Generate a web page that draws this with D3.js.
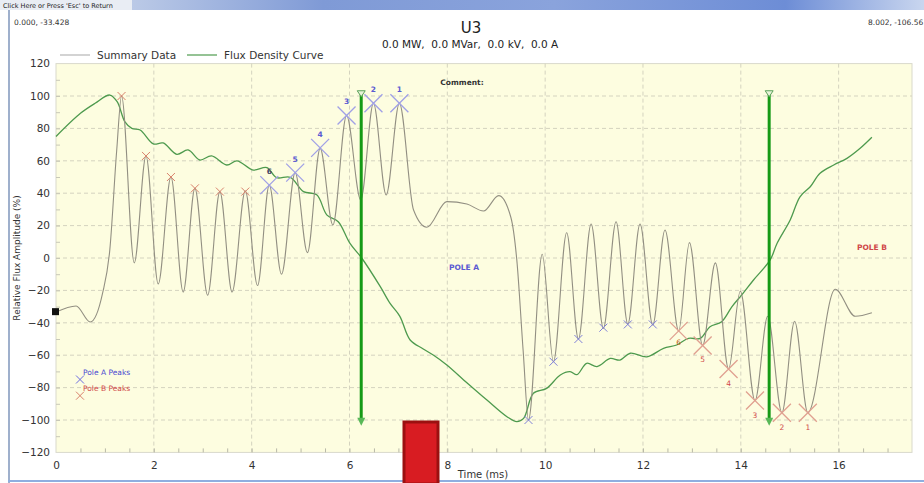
<!DOCTYPE html>
<html><head><meta charset="utf-8">
<script src="https://cdn.jsdelivr.net/npm/d3@7"></script>
<style>body{margin:0;background:#fff;overflow:hidden}svg{display:block;font-family:"DejaVu Sans",Verdana,sans-serif}text{white-space:pre}</style>
</head><body>
<svg id="c" width="924" height="483"></svg>
<script>
// ---- data ----
const sumT = [0,0.41,0.7,0.95,1.1,1.24,1.34,1.6,1.84,2.09,2.35,2.6,2.84,3.1,3.35,3.6,3.87,4.12,4.36,4.61,4.89,5.14,5.4,5.66,5.94,6.23,6.49,6.75,7.02,7.31,7.58,7.99,8.4,8.74,9.05,9.3,9.42,9.55,9.66,9.94,10.17,10.44,10.68,10.94,11.19,11.45,11.69,11.94,12.2,12.45,12.73,12.95,13.22,13.48,13.75,13.99,14.29,14.55,14.84,15.1,15.37,15.93,16.34,16.68];
const sumV = [-33.4,-29.6,-39.5,-22,5,66,100,-3,63,-16,50,-21,43,-23,41,-21,41.5,-17,45,-10,52.7,3.3,67.7,20.4,88,35.8,95.5,38.9,95.5,29.6,19,34.8,33.3,29,38.5,25,-1,-57,-100,2.3,-64,15.6,-50,21,-43.4,22.4,-40.7,21,-41.4,17.3,-45,9.5,-54,-3,-68.5,-20.5,-88,-36,-95.5,-39,-95.5,-19.3,-36,-33.8];
const fluxT = [0,0.5,0.8,1.1,1.25,1.41,1.55,1.72,1.99,2.19,2.47,2.7,2.94,3.18,3.49,3.7,4.03,4.31,4.51,4.79,5.06,5.33,5.54,5.77,6.01,6.25,6.63,6.83,7.03,7.24,7.5,7.72,7.99,8.4,8.81,9.22,9.42,9.56,9.76,10.03,10.31,10.51,10.65,10.85,11.06,11.33,11.53,11.74,12.08,12.42,12.69,12.93,13.17,13.37,13.61,13.82,14.02,14.26,14.6,14.74,15.01,15.21,15.42,15.62,15.9,16.17,16.44,16.68];
const fluxV = [75,89.3,95.5,100.6,96.5,84,80,79,70.4,71,64,66.7,60.5,63,57.4,60,54.3,55.8,49.6,49.8,41,39,26.5,22.4,9,0,-17.7,-28,-36,-50.6,-56,-60,-66,-77,-87.7,-98,-101,-99,-83.5,-80.5,-72.2,-70.2,-72,-65,-67,-62,-63,-58.8,-61,-55.8,-53.7,-49.6,-49.6,-42.4,-39.3,-30,-22.8,-13.6,-1.2,9,23.5,37.8,44,52.3,57.4,61.5,67.7,74.5];
const poleBSmallT = [1.34,1.84,2.35,2.84,3.35,3.87];
const poleBSmallV = [100,63,50,43,41,41];
const poleANumT = [7.02,6.49,5.94,5.4,4.89,4.36];
const poleANumV = [95.5,95.5,88,68,52.7,45];
const poleASmallT = [9.66,10.17,10.68,11.19,11.69,12.2];
const poleASmallV = [-100,-64,-50,-43,-41,-41];
const poleBNumT = [15.37,14.84,14.29,13.75,13.22,12.73];
const poleBNumV = [-95.5,-95.5,-88,-68.5,-54,-45];
const peakLabels = ["1","2","3","4","5","6"];
const cursorT = [6.24, 14.58];
const cursorTop = 102, cursorBottom = -103;
const xTicks = [0,2,4,6,8,10,12,14,16];
const yTicks = [-120,-100,-80,-60,-40,-20,0,20,40,60,80,100,120];
const startPoint = [0,-33.428];

// ---- layout ----
const svg = d3.select("#c");
const L = 56, R = 912, T = 63.6, B = 452.4;
const x = d3.scaleLinear().domain([0,17.5]).range([L,R]);
const y = d3.scaleLinear().domain([-120,120]).range([B,T]);

// window chrome
const defs = svg.append("defs");
const g1 = defs.append("linearGradient").attr("id","tb");
g1.append("stop").attr("offset","0").attr("stop-color","#dfe6f2");
g1.append("stop").attr("offset","0.15").attr("stop-color","#b9c8e6");
g1.append("stop").attr("offset","0.35").attr("stop-color","#7f9ad6");
g1.append("stop").attr("offset","0.6").attr("stop-color","#8aa3dc");
g1.append("stop").attr("offset","0.85").attr("stop-color","#6d8dd6");
g1.append("stop").attr("offset","1").attr("stop-color","#c9d6ef");
svg.append("rect").attr("x",0).attr("y",0).attr("width",924).attr("height",10).attr("fill","url(#tb)");
svg.append("rect").attr("x",0).attr("y",0).attr("width",132).attr("height",10).attr("fill","#e9edf4");
svg.append("text").attr("x",3).attr("y",8).attr("font-size",6.5).attr("fill","#222").text("Click Here or Press 'Esc' to Return");
svg.append("rect").attr("x",8).attr("y",10).attr("width",2).attr("height",473).attr("fill","#9fb0cc");
svg.append("rect").attr("x",8).attr("y",480).attr("width",916).attr("height",2).attr("fill","#8eaee0");

svg.append("text").attr("x",14).attr("y",25).attr("font-size",7.5).attr("fill","#333").text("0.000, -33.428");
svg.append("text").attr("x",868).attr("y",25).attr("font-size",7.5).attr("fill","#333").text("8.002, -106.56");
svg.append("text").attr("x",471).attr("y",33).attr("text-anchor","middle").attr("font-size",15).attr("fill","#222").text("U3");
svg.append("text").attr("x",470).attr("y",48).attr("text-anchor","middle").attr("font-size",10.5).attr("fill","#222").text("0.0 MW,  0.0 MVar,  0.0 kV,  0.0 A");

// legend
svg.append("line").attr("x1",60).attr("x2",90).attr("y1",55).attr("y2",55).attr("stroke","#b5b5b5").attr("stroke-width",1.2);
svg.append("text").attr("x",97).attr("y",59).attr("font-size",10.5).attr("fill","#333").text("Summary Data");
svg.append("line").attr("x1",187).attr("x2",217).attr("y1",55).attr("y2",55).attr("stroke","#4e9a4e").attr("stroke-width",1.2);
svg.append("text").attr("x",224).attr("y",59).attr("font-size",10.5).attr("fill","#333").text("Flux Density Curve");

// plot background
svg.append("rect").attr("x",L).attr("y",T).attr("width",R-L).attr("height",B-T).attr("fill","#fdfde0").attr("stroke","#d9d9cc");

// grid
const grid = svg.append("g").attr("stroke","#d4d3bf").attr("stroke-dasharray","4,3").attr("stroke-width",1);
xTicks.filter(d=>d>0).forEach(d=>grid.append("line").attr("x1",x(d)).attr("x2",x(d)).attr("y1",T).attr("y2",B));
yTicks.filter(d=>d>-120&&d<120).forEach(d=>grid.append("line").attr("x1",L).attr("x2",R).attr("y1",y(d)).attr("y2",y(d)));

// axes
const xAx = svg.append("g").attr("transform",`translate(0,${B})`)
  .call(d3.axisBottom(x).tickValues(xTicks).tickSize(0).tickPadding(9).tickFormat(d3.format("d")));
xAx.select(".domain").remove();
xAx.selectAll("text").attr("font-size",10.5).attr("fill","#333").attr("font-family","DejaVu Sans, Verdana, sans-serif");
const xMinor = svg.append("g").attr("transform",`translate(0,${B})`)
  .call(d3.axisTop(x).tickValues(d3.range(0.5,17.5,0.5)).tickSize(4).tickFormat(""));
xMinor.select(".domain").remove();
xMinor.selectAll("line").attr("stroke","#b8b8a8");
const yAx = svg.append("g").attr("transform",`translate(${L},0)`)
  .call(d3.axisLeft(y).tickValues(yTicks).tickSize(0).tickPadding(6));
yAx.select(".domain").remove();
yAx.selectAll("text").attr("font-size",10.5).attr("fill","#333").attr("font-family","DejaVu Sans, Verdana, sans-serif");
const yMinor = svg.append("g").attr("transform",`translate(${L},0)`)
  .call(d3.axisRight(y).tickValues(d3.range(-110,120,10)).tickSize(4).tickFormat(""));
yMinor.select(".domain").remove();
yMinor.selectAll("line").attr("stroke","#c8c8b8");

svg.append("text").attr("x",483).attr("y",478).attr("text-anchor","middle").attr("font-size",10).attr("fill","#333").text("Time (ms)");
svg.append("text").attr("transform",`translate(20,${(T+B)/2}) rotate(-90)`).attr("text-anchor","middle").attr("font-size",9).attr("fill","#333").text("Relative Flux Amplitude (%)");

// annotation text
svg.append("text").attr("x",462).attr("y",85).attr("text-anchor","middle").attr("font-size",7.5).attr("font-weight","bold").attr("fill","#333").text("Comment:");
svg.append("text").attr("x",464).attr("y",270).attr("text-anchor","middle").attr("font-size",7.5).attr("font-weight","bold").attr("fill","#5a5ad2").text("POLE A");
svg.append("text").attr("x",872).attr("y",250).attr("text-anchor","middle").attr("font-size",7.5).attr("font-weight","bold").attr("fill","#d04848").text("POLE B");

// lines
const sumData = sumT.map((t,i)=>[t,sumV[i]]);
const fluxData = fluxT.map((t,i)=>[t,fluxV[i]]);
svg.append("path").datum(fluxData).attr("fill","none").attr("stroke","#4e9a4e").attr("stroke-width",1.3)
  .attr("d",d3.line().x(d=>x(d[0])).y(d=>y(d[1])).curve(d3.curveCatmullRom.alpha(0.5)));
svg.append("path").datum(sumData).attr("fill","none").attr("stroke","#928f82").attr("stroke-width",1.1)
  .attr("d",d3.line().x(d=>x(d[0])).y(d=>y(d[1])).curve(d3.curveMonotoneX));

// markers
function cross(g, cx, cy, r, color, w){
  g.append("path").attr("d",`M${cx-r},${cy-r}L${cx+r},${cy+r}M${cx-r},${cy+r}L${cx+r},${cy-r}`)
   .attr("stroke",color).attr("stroke-width",w).attr("fill","none");
}
const mk = svg.append("g");
poleBSmallT.forEach((t,i)=>cross(mk,x(t),y(poleBSmallV[i]),4,"#d9826c",1));
poleASmallT.forEach((t,i)=>cross(mk,x(t),y(poleASmallV[i]),4,"#8080d8",1));
poleANumT.forEach((t,i)=>{
  cross(mk,x(t),y(poleANumV[i]),9,"#a0a0e6",1.3);
  mk.append("text").attr("x",x(t)).attr("y",y(poleANumV[i])-11).attr("text-anchor","middle")
    .attr("font-size",7.5).attr("font-weight","bold").attr("fill",i===5?"#444466":"#5a5ad2").text(peakLabels[i]);
});
poleBNumT.forEach((t,i)=>{
  cross(mk,x(t),y(poleBNumV[i]),9,"#e0a090",1.3);
  mk.append("text").attr("x",x(t)).attr("y",y(poleBNumV[i])+(i===5?14:17)).attr("text-anchor","middle")
    .attr("font-size",7.5).attr("fill",i===5?"#c06010":"#d04848").text(peakLabels[i]);
});

// legend of peaks
cross(mk,80,y(-75),4,"#6a6ae0",1);
mk.append("text").attr("x",83).attr("y",y(-72)).attr("font-size",7.5).attr("fill","#4a4ad0").text("Pole A Peaks");
cross(mk,80,y(-85),4,"#d9826c",1);
mk.append("text").attr("x",83).attr("y",y(-82)).attr("font-size",7.5).attr("fill","#d04848").text("Pole B Peaks");

// start point
svg.append("rect").attr("x",x(startPoint[0])-4).attr("y",y(startPoint[1])-4).attr("width",7).attr("height",7).attr("fill","#111");

// cursors
cursorT.forEach(t=>{
  const cx = x(t);
  svg.append("line").attr("x1",cx).attr("x2",cx).attr("y1",y(cursorTop)).attr("y2",y(cursorBottom)-4).attr("stroke","#159a15").attr("stroke-width",3);
  svg.append("path").attr("d",`M${cx-4},${y(cursorTop)-2}L${cx+4},${y(cursorTop)-2}L${cx},${y(cursorTop)+4}Z`)
    .attr("fill","#e8f4d8").attr("stroke","#5aa05a").attr("stroke-width",1);
  svg.append("path").attr("d",`M${cx-4},${y(cursorBottom)-7}L${cx+4},${y(cursorBottom)-7}L${cx},${y(cursorBottom)+1}Z`)
    .attr("fill","#58b858");
});

// red overlay block
svg.append("rect").attr("x",404).attr("y",422).attr("width",34).attr("height",62).attr("fill","#d81c22").attr("stroke","#9c1010").attr("stroke-width",3);
</script>
</body></html>
